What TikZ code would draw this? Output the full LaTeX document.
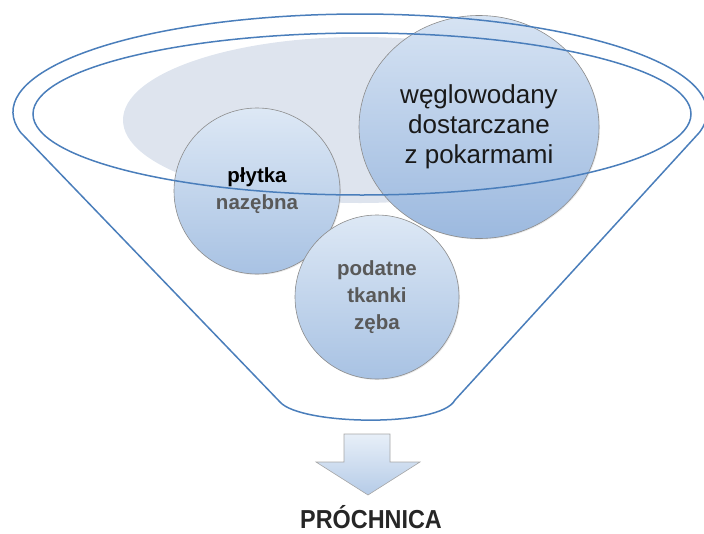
\documentclass[tikz,border=0pt]{standalone}
\usepackage{fontspec}
\setmainfont{Liberation Sans}
\usepackage{xcolor}
\usepackage{tikz}
\usetikzlibrary{
	calc,
	shapes.geometric,
	shadows
}
\definecolor{FunnelBlue}{RGB}{74,126,187}
\definecolor{MistGray}{RGB}{222,228,238}
\definecolor{BubbleTop}{RGB}{221,232,245}
\definecolor{BubbleBottom}{RGB}{168,194,227}
\definecolor{BigTop}{RGB}{214,227,243}
\definecolor{BigBottom}{RGB}{156,185,223}
\definecolor{TextGray}{RGB}{89,89,89}

\begin{document}
\begin{tikzpicture}[x=1pt,y=-1pt,
		funnel/.style={draw=FunnelBlue,line width=1.5pt},
		bubble/.style={draw=black!45,line width=0.6pt,top color=BubbleTop,bottom color=BubbleBottom,
			drop shadow={opacity=0.18,shadow xshift=1pt,shadow yshift=-1pt},
			align=center,inner sep=0pt},
		small/.style={font=\bfseries\fontsize{20.5}{27}\selectfont}
	]
			\useasboundingbox (0,0) rectangle (704,533);
			\fill[MistGray] (360,120) ellipse (237 and 83);
			
			\node[bubble,circle,minimum size=166pt,small] (plaque) at (257,191) {płytka\\\textcolor{TextGray}{nazębna}};
			\node[bubble,circle,minimum size=164pt,small,text=TextGray] (tissue) at (377,297) {podatne\\tkanki\\zęba};
			\node[bubble,ellipse,minimum width=240pt,minimum height=223pt,top color=BigTop,bottom color=BigBottom,
				font=\fontsize{26}{30}\selectfont,text=black!90] (sugar) at (479,127) {węglowodany\\dostarczane\\z pokarmami};
			
			\coordinate (rimL) at (20.6,132.4);
			\coordinate (tipL) at (280,402);
			\coordinate (tipR) at (455,400);
			\draw[funnel] (rimL) arc[start angle=168,end angle=372,x radius=347,y radius=98]
				-- (tipR) .. controls (440,428) and (300,425) .. (tipL) -- cycle;
			\draw[funnel] (362,114) ellipse (329 and 81);
			
			\draw[black!35,line width=0.6pt,top color=BubbleTop!70,bottom color=BubbleBottom!85]
				(344,434) -- (390,434) -- (390,462) -- (420,462) -- (368,495) -- (316,462) -- (344,462) -- cycle;
			\node[anchor=base,font=\bfseries\fontsize{26}{30}\selectfont,text=black!85] (caries) at (371,528) {\scalebox{0.9}[1]{PRÓCHNICA}};
		\end{tikzpicture}
\end{document}
